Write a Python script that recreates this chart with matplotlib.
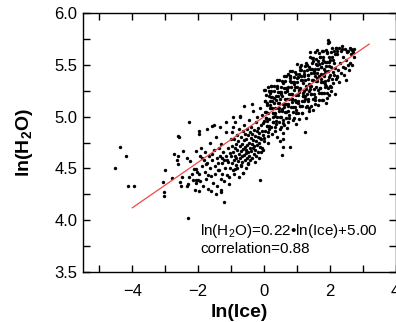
import numpy as np
import matplotlib
matplotlib.use('Agg')
import matplotlib.pyplot as plt
from matplotlib.ticker import MultipleLocator, FormatStrFormatter

plt.rcParams['font.family'] = ['Liberation Sans', 'DejaVu Sans']
plt.rcParams['mathtext.fontset'] = 'custom'
plt.rcParams['mathtext.rm'] = 'Liberation Sans'
plt.rcParams['mathtext.bf'] = 'Liberation Sans:bold'

# points (ln(Ice), ln(H2O))
tail_pts = [(-4.54, 4.50), (-4.38, 4.71), (-4.20, 4.62), (-4.12, 4.33), (-3.96, 4.33),
            (-3.07, 4.37), (-3.04, 4.27), (-3.03, 4.23), (-3.01, 4.48), (-2.78, 4.41),
            (-2.30, 4.02), (-2.60, 4.81), (-2.58, 4.80), (-2.45, 4.67), (-2.72, 4.64),
            (-2.60, 4.62), (-2.64, 4.58), (-2.61, 4.54), (-2.35, 4.60), (-2.25, 4.57),
            (-2.07, 4.67), (-1.97, 4.86), (-2.27, 4.95), (-2.55, 4.37), (-2.53, 4.33),
            (-2.48, 4.42), (-2.33, 4.33), (-2.30, 4.35), (-2.27, 4.42), (-2.19, 4.45),
            (-2.13, 4.49), (-2.07, 4.49), (-2.03, 4.47), (-2.15, 4.39), (-2.05, 4.39),
            (-1.99, 4.39), (-2.07, 4.36), (-2.10, 4.29), (-1.97, 4.28), (-1.57, 4.91),
            (-1.32, 4.29), (-1.29, 4.27), (-1.22, 4.18), (-0.63, 4.46), (-0.48, 4.54),
            (-0.70, 4.53), (-0.88, 4.49), (-0.12, 4.39), (-0.93, 5.00), (-0.73, 5.01),
            (0.13, 5.29), (0.74, 5.41), (0.79, 4.71), (0.59, 4.78), (0.49, 4.76),
            (0.57, 4.71), (0.54, 4.63), (1.26, 4.85), (1.96, 5.74), (1.98, 5.72),
            (2.19, 5.66), (2.21, 5.63), (2.36, 5.65), (2.52, 5.63), (2.64, 5.65),
            (2.03, 5.29), (2.21, 5.39), (1.40, 5.62), (1.55, 5.62)]

low_pts = [(-1.98, 4.45), (-1.95, 4.62), (-1.93, 4.38), (-1.90, 4.70), (-1.88, 4.52),
           (-1.85, 4.33), (-1.83, 4.58), (-1.80, 4.47), (-1.78, 4.66), (-1.75, 4.40),
           (-1.73, 4.55), (-1.70, 4.30), (-1.68, 4.62), (-1.65, 4.50), (-1.63, 4.75),
           (-1.60, 4.43), (-1.58, 4.58), (-1.55, 4.36), (-1.53, 4.68), (-1.50, 4.52),
           (-1.48, 4.45), (-1.46, 4.80), (-1.44, 4.60), (-1.42, 4.33), (-1.40, 4.55),
           (-1.38, 4.70), (-1.36, 4.48), (-1.34, 4.62), (-1.32, 4.40), (-1.30, 4.74),
           (-1.28, 4.55), (-1.26, 4.45), (-1.24, 4.66), (-1.22, 4.38), (-1.20, 4.58),
           (-1.18, 4.50), (-1.16, 4.85), (-1.14, 4.62), (-1.12, 4.44), (-1.10, 4.70),
           (-1.08, 4.56), (-1.06, 4.35), (-1.04, 4.65), (-1.02, 4.50), (-1.00, 4.78),
           (-1.97, 4.83), (-1.72, 4.88), (-1.52, 4.92), (-1.35, 4.90), (-1.15, 4.95),
           (-1.62, 4.28), (-1.45, 4.25), (-1.89, 4.60), (-1.77, 4.54), (-1.57, 4.64),
           (-1.41, 4.48), (-1.27, 4.60), (-1.11, 4.58), (-1.05, 4.42), (-1.69, 4.44)]

mid_pts = [(-0.99, 4.62), (-0.98, 4.85), (-0.97, 4.55), (-0.96, 4.72), (-0.95, 4.48),
           (-0.94, 4.90), (-0.93, 4.66), (-0.92, 4.58), (-0.91, 4.78), (-0.90, 4.45),
           (-0.89, 4.70), (-0.88, 4.62), (-0.87, 4.95), (-0.86, 4.53), (-0.85, 4.74),
           (-0.84, 4.60), (-0.83, 4.82), (-0.82, 4.50), (-0.81, 4.68), (-0.80, 4.76),
           (-0.78, 4.57), (-0.77, 4.88), (-0.76, 4.64), (-0.75, 4.42), (-0.74, 4.72),
           (-0.73, 4.60), (-0.72, 5.00), (-0.71, 4.67), (-0.70, 4.52), (-0.69, 4.80),
           (-0.68, 4.62), (-0.67, 4.74), (-0.66, 4.56), (-0.65, 4.86), (-0.64, 4.69),
           (-0.63, 4.46), (-0.62, 4.77), (-0.61, 4.63), (-0.60, 4.92), (-0.59, 4.58),
           (-0.58, 4.71), (-0.57, 4.83), (-0.56, 4.65), (-0.55, 4.50), (-0.54, 4.78),
           (-0.53, 4.68), (-0.52, 4.60), (-0.51, 4.88), (-0.50, 4.73), (-0.49, 4.55),
           (-0.48, 4.82), (-0.47, 4.66), (-0.46, 4.97), (-0.45, 4.75), (-0.44, 4.62),
           (-0.43, 4.85), (-0.42, 4.70), (-0.41, 4.58), (-0.40, 4.79), (-0.39, 4.67),
           (-0.38, 4.90), (-0.37, 4.74), (-0.36, 4.60), (-0.35, 4.83), (-0.34, 4.70),
           (-0.33, 5.05), (-0.32, 4.77), (-0.31, 4.64), (-0.30, 4.87), (-0.29, 4.72),
           (-0.28, 4.56), (-0.27, 4.81), (-0.26, 4.68), (-0.25, 4.95), (-0.24, 4.76),
           (-0.23, 4.62), (-0.22, 4.86), (-0.21, 4.73), (-0.20, 5.00), (-0.19, 4.80),
           (-0.18, 4.66), (-0.17, 4.89), (-0.16, 4.75), (-0.15, 4.60), (-0.14, 4.84),
           (-0.13, 4.71), (-0.12, 5.08), (-0.11, 4.79), (-0.10, 4.66), (-0.09, 4.92),
           (-0.08, 4.78), (-0.07, 4.86), (-0.06, 4.70), (-0.05, 5.02), (-0.04, 4.82),
           (-0.03, 4.68), (-0.02, 4.94), (-0.01, 4.76), (-0.62, 5.10), (-0.35, 5.12)]

up_pts = [(0.04, 4.86), (0.09, 5.11), (0.01, 4.96), (0.06, 5.21), (0.00, 4.79),
          (0.07, 5.04), (0.02, 5.15), (0.08, 4.91), (0.03, 5.26), (0.05, 4.99),
          (0.17, 5.11), (0.12, 4.85), (0.15, 5.20), (0.10, 4.96), (0.19, 5.08),
          (0.13, 4.75), (0.18, 5.15), (0.11, 5.03), (0.16, 4.91), (0.14, 5.25),
          (0.21, 4.90), (0.26, 5.15), (0.29, 5.00), (0.23, 5.25), (0.25, 4.83),
          (0.20, 5.08), (0.24, 5.19), (0.27, 4.95), (0.22, 5.30), (0.28, 5.03),
          (0.38, 5.16), (0.33, 4.90), (0.30, 5.25), (0.35, 5.01), (0.32, 5.13),
          (0.39, 4.80), (0.36, 5.20), (0.34, 5.08), (0.37, 4.96), (0.31, 5.30),
          (0.47, 4.95), (0.42, 5.20), (0.45, 5.05), (0.40, 5.30), (0.49, 4.88),
          (0.43, 5.13), (0.48, 5.24), (0.41, 5.00), (0.46, 5.35), (0.44, 5.08),
          (0.54, 5.20), (0.59, 4.94), (0.51, 5.29), (0.56, 5.05), (0.50, 5.17),
          (0.57, 4.84), (0.52, 5.24), (0.58, 5.12), (0.53, 5.00), (0.55, 5.34),
          (0.68, 4.99), (0.63, 5.24), (0.60, 5.09), (0.65, 5.34), (0.62, 4.92),
          (0.69, 5.17), (0.66, 5.28), (0.64, 5.04), (0.67, 5.39), (0.61, 5.12),
          (0.71, 5.25), (0.76, 4.99), (0.79, 5.34), (0.73, 5.10), (0.75, 5.22),
          (0.70, 4.89), (0.74, 5.29), (0.77, 5.17), (0.72, 5.05), (0.78, 5.39),
          (0.87, 5.04), (0.82, 5.29), (0.85, 5.14), (0.80, 5.39), (0.89, 4.97),
          (0.83, 5.22), (0.88, 5.33), (0.81, 5.09), (0.86, 5.44), (0.84, 5.17),
          (0.94, 5.29), (0.99, 5.03), (0.91, 5.38), (0.96, 5.14), (0.90, 5.26),
          (0.97, 4.93), (0.92, 5.33), (0.98, 5.21), (0.93, 5.09), (0.95, 5.43),
          (0.065, 4.99), (0.005, 5.26), (0.085, 4.91), (0.025, 5.15), (0.045, 5.04),
          (0.125, 4.81), (0.185, 5.23), (0.145, 4.98), (0.105, 5.13), (0.165, 4.88),
          (0.265, 5.03), (0.205, 5.30), (0.285, 4.95), (0.225, 5.19), (0.245, 5.08),
          (0.325, 4.86), (0.385, 5.28), (0.345, 5.03), (0.305, 5.18), (0.365, 4.93),
          (0.465, 5.08), (0.405, 5.35), (0.485, 5.00), (0.425, 5.24), (0.445, 5.13),
          (0.525, 4.90), (0.585, 5.32), (0.545, 5.07), (0.505, 5.22), (0.565, 4.97),
          (0.665, 5.12), (0.605, 5.39), (0.685, 5.04), (0.625, 5.28), (0.645, 5.17),
          (0.725, 4.95), (0.785, 5.37), (0.745, 5.12), (0.705, 5.27), (0.765, 5.02),
          (0.865, 5.17), (0.805, 5.44), (0.885, 5.09), (0.825, 5.33), (0.845, 5.22),
          (0.925, 4.99), (0.985, 5.41), (0.945, 5.16), (0.905, 5.31), (0.965, 5.06)]

high_pts = [(1.08, 5.41), (1.03, 5.15), (1.00, 5.29), (1.05, 5.03), (1.02, 5.51),
            (1.09, 5.10), (1.06, 5.24), (1.04, 5.38), (1.07, 4.98), (1.01, 5.33),
            (1.11, 5.10), (1.16, 5.35), (1.19, 5.20), (1.13, 5.45), (1.15, 5.03),
            (1.10, 5.28), (1.14, 5.39), (1.17, 5.15), (1.12, 5.50), (1.18, 5.23),
            (1.24, 5.35), (1.29, 5.09), (1.21, 5.44), (1.26, 5.20), (1.20, 5.32),
            (1.27, 4.99), (1.22, 5.39), (1.28, 5.27), (1.23, 5.15), (1.25, 5.49),
            (1.37, 5.48), (1.32, 5.22), (1.35, 5.36), (1.30, 5.10), (1.39, 5.58),
            (1.33, 5.17), (1.38, 5.31), (1.31, 5.45), (1.36, 5.05), (1.34, 5.40),
            (1.48, 5.17), (1.43, 5.42), (1.40, 5.27), (1.45, 5.52), (1.42, 5.10),
            (1.49, 5.35), (1.46, 5.46), (1.44, 5.22), (1.47, 5.57), (1.41, 5.30),
            (1.51, 5.42), (1.56, 5.16), (1.59, 5.51), (1.53, 5.27), (1.55, 5.39),
            (1.50, 5.06), (1.54, 5.46), (1.57, 5.34), (1.52, 5.22), (1.58, 5.56),
            (1.64, 5.54), (1.69, 5.28), (1.61, 5.42), (1.66, 5.16), (1.60, 5.64),
            (1.67, 5.23), (1.62, 5.37), (1.68, 5.51), (1.63, 5.11), (1.65, 5.46),
            (1.77, 5.23), (1.72, 5.48), (1.75, 5.33), (1.70, 5.58), (1.79, 5.16),
            (1.73, 5.41), (1.78, 5.52), (1.71, 5.28), (1.76, 5.63), (1.74, 5.36),
            (1.88, 5.49), (1.83, 5.23), (1.80, 5.58), (1.85, 5.34), (1.82, 5.46),
            (1.89, 5.13), (1.86, 5.53), (1.84, 5.41), (1.87, 5.29), (1.81, 5.63),
            (1.91, 5.61), (1.96, 5.35), (1.99, 5.49), (1.93, 5.23), (1.95, 5.71),
            (1.90, 5.30), (1.94, 5.44), (1.97, 5.58), (1.92, 5.18), (1.98, 5.53),
            (1.025, 5.21), (1.085, 5.48), (1.045, 5.13), (1.005, 5.37), (1.065, 5.26),
            (1.165, 5.03), (1.105, 5.45), (1.185, 5.20), (1.125, 5.35), (1.145, 5.10),
            (1.225, 5.25), (1.285, 5.52), (1.245, 5.17), (1.205, 5.41), (1.265, 5.30),
            (1.365, 5.08), (1.305, 5.50), (1.385, 5.25), (1.325, 5.40), (1.345, 5.15),
            (1.425, 5.30), (1.485, 5.57), (1.445, 5.22), (1.405, 5.46), (1.465, 5.35),
            (1.565, 5.12), (1.505, 5.54), (1.585, 5.29), (1.525, 5.44), (1.545, 5.19),
            (1.625, 5.34), (1.685, 5.61), (1.645, 5.26), (1.605, 5.50), (1.665, 5.39),
            (1.765, 5.16), (1.705, 5.58), (1.785, 5.33), (1.725, 5.48), (1.745, 5.23),
            (1.825, 5.39), (1.885, 5.64), (1.845, 5.31), (1.805, 5.55), (1.865, 5.44),
            (1.965, 5.21), (1.905, 5.62), (1.985, 5.38), (1.925, 5.53), (1.945, 5.28)]

top_pts = [(2.00, 5.30), (2.01, 5.55), (2.02, 5.40), (2.03, 5.62), (2.04, 5.25),
           (2.05, 5.48), (2.06, 5.58), (2.07, 5.36), (2.08, 5.66), (2.09, 5.43),
           (2.10, 5.55), (2.11, 5.32), (2.12, 5.63), (2.13, 5.40), (2.14, 5.52),
           (2.15, 5.22), (2.16, 5.60), (2.17, 5.47), (2.18, 5.36), (2.19, 5.66),
           (2.21, 5.38), (2.23, 5.60), (2.25, 5.45), (2.27, 5.66), (2.29, 5.33),
           (2.31, 5.52), (2.33, 5.63), (2.35, 5.42), (2.37, 5.68), (2.39, 5.48),
           (2.41, 5.58), (2.43, 5.40), (2.45, 5.65), (2.47, 5.47), (2.49, 5.55),
           (2.51, 5.35), (2.53, 5.62), (2.55, 5.50), (2.57, 5.63), (2.59, 5.45),
           (2.61, 5.66), (2.63, 5.52), (2.65, 5.60), (2.67, 5.64), (2.69, 5.50),
           (2.71, 5.62), (2.73, 5.65), (2.75, 5.58)]

all_pts = tail_pts + low_pts + mid_pts + up_pts + high_pts + top_pts
ln_ice = [p[0] for p in all_pts]
ln_h2o = [p[1] for p in all_pts]

# regression line end points
fit_ice = [-4.0, 3.2]
fit_h2o = [4.12, 5.70]

fig = plt.figure(figsize=(3.96, 3.22), dpi=100)
ax = fig.add_axes([83 / 396, 50 / 322, 312.5 / 396, 259 / 322])

ax.scatter(ln_ice, ln_h2o, s=6, c='black', linewidths=0)
ax.plot(fit_ice, fit_h2o, color='#f04848', lw=0.9)

ax.set_xlim(-5.5, 4.0)
ax.set_ylim(3.5, 6.0)
ax.xaxis.set_major_locator(MultipleLocator(2))
ax.xaxis.set_minor_locator(MultipleLocator(1))
ax.yaxis.set_major_locator(MultipleLocator(0.5))
ax.yaxis.set_minor_locator(MultipleLocator(0.25))
ax.yaxis.set_major_formatter(FormatStrFormatter('%.1f'))
ax.tick_params(which='both', direction='in', top=True, right=True,
               length=5, width=1, labelsize=12)
ax.tick_params(axis='x', pad=9)
ax.tick_params(axis='y', pad=4)
for sp in ax.spines.values():
    sp.set_linewidth(1)

ax.set_xlabel('ln(Ice)', fontsize=14, fontweight='bold', labelpad=3)
ax.set_ylabel(r'ln(H$_\mathbf{2}$O)', fontsize=14, fontweight='bold', labelpad=14)

ax.text(0.375, 0.158, r'ln(H$_\mathregular{2}$O)=0.22•ln(Ice)+5.00',
        transform=ax.transAxes, fontsize=11, va='center', ha='left')
ax.text(0.375, 0.089, 'correlation=0.88',
        transform=ax.transAxes, fontsize=11, va='center', ha='left')

fig.savefig('out.png', dpi=100)
